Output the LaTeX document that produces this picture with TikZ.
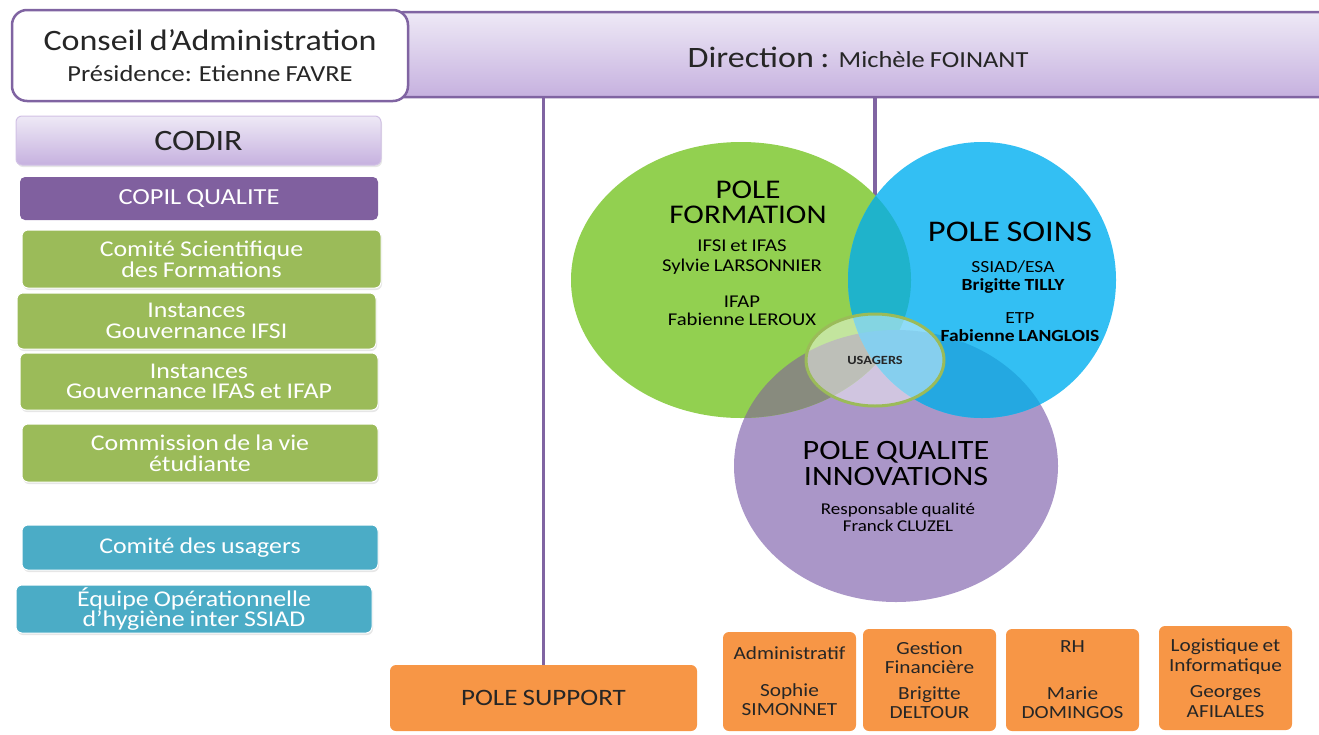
\documentclass[tikz,border=0pt]{standalone}
\usepackage{fontspec}
\setmainfont[FakeStretch=1.15,WordSpace=0.85]{Carlito}
\usetikzlibrary{shapes.geometric,shadows}
\definecolor{purpline}{HTML}{8064A2}
\definecolor{lavtop}{HTML}{EEE9F6}
\definecolor{lavbot}{HTML}{C6B1DF}
\definecolor{copil}{HTML}{80609F}
\definecolor{boxgreen}{HTML}{9BBB59}
\definecolor{boxteal}{HTML}{4BACC6}
\definecolor{boxorange}{HTML}{F79646}
\definecolor{cgreen}{HTML}{92D050}
\definecolor{cblue}{HTML}{33BFF3}
\definecolor{cpurple}{HTML}{AA96C8}
\definecolor{cgp}{HTML}{888B7E}
\definecolor{cgb}{HTML}{1FB3CB}
\definecolor{cbp}{HTML}{24A8E1}
\definecolor{txt}{HTML}{262626}
\newcommand\fs[2]{\fontsize{#1}{#2}\selectfont}
\begin{document}
\begin{tikzpicture}[x=1pt,y=-1pt,
  base/.style={inner sep=0pt, outer sep=0pt, align=center},
  lavbox/.style={base, rounded corners=6pt, top color=lavtop, bottom color=lavbot, text=txt},
  leftbox/.style={base, rounded corners=6pt, text=white, draw=white, line width=1pt,
     drop shadow={opacity=0.2, shadow xshift=1pt, shadow yshift=-2pt}},
  greenbox/.style={leftbox, fill=boxgreen, font=\fs{22.5}{21}},
  tealbox/.style={leftbox, fill=boxteal, font=\fs{22.5}{20}},
  orbox/.style={base, rounded corners=6pt, fill=boxorange, text=txt},
  vline/.style={draw=purpline, line width=3.5pt},
  ctext/.style={base, text=black}
]
\useasboundingbox (0,0) rectangle (1319,734);

% Direction bar (runs off the right edge)
\node[lavbox, draw=purpline, line width=2.5pt, minimum width=950pt, minimum height=85pt]
  (dir) at (873,54.5) {};
\node[base, text=txt] (dirt) at (858,57) {\fs{29.6}{32}Direction : \fs{23}{26}Michèle FOINANT};

% Conseil d'Administration
\node[base, draw=purpline, line width=2.5pt, fill=white, rounded corners=15pt,
  minimum width=396pt, minimum height=91pt, text=txt, font=\fs{29.6}{31}]
  (ca) at (210,55.5) {Conseil d’Administration\\{\fs{23}{31}Présidence: Etienne FAVRE}};

% Left column
\node[lavbox, draw=lavbot!80!white, line width=1pt, minimum width=365pt, minimum height=49pt,
  font=\fs{29.6}{32}, drop shadow={opacity=0.2, shadow xshift=1pt, shadow yshift=-2pt}]
  (codir) at (198.5,140.5) {CODIR};
\node[base, rounded corners=5pt, fill=copil, text=white, minimum width=358pt, minimum height=43pt,
  font=\fs{23}{26}] (copil) at (199,198.5) {COPIL QUALITE};
\node[greenbox, minimum width=359pt, minimum height=58pt] (csf) at (201.5,259) {Comité Scientifique\\des Formations};
\node[greenbox, minimum width=359pt, minimum height=56pt] (ifsi) at (196.5,321) {Instances\\Gouvernance IFSI};
\node[greenbox, minimum width=358pt, minimum height=57pt, font=\fs{22.5}{20}] (ifas) at (199,381.5) {Instances\\Gouvernance IFAS et IFAP};
\node[greenbox, minimum width=356pt, minimum height=58pt] (cve) at (200,453) {Commission de la vie\\étudiante};
\node[tealbox, minimum width=356pt, minimum height=45pt] (cu) at (200,547.5) {Comité des usagers};
\node[tealbox, minimum width=356pt, minimum height=48pt] (eoh) at (194,609) {Équipe Opérationnelle\\d’hygiène inter SSIAD};

% Pole support and sub boxes
\node[orbox, minimum width=307pt, minimum height=66pt, font=\fs{23.5}{26}] (sup) at (543.5,698) {POLE SUPPORT};
\node[orbox, minimum width=133pt, minimum height=99pt, font=\fs{18.5}{19.5}] (adm) at (789.5,681.5)
  {Administratif\\[17pt]Sophie\\SIMONNET};
\node[orbox, minimum width=133pt, minimum height=102pt, font=\fs{18.5}{19}] (gf) at (929.5,680)
  {Gestion\\Financière\\[7pt]Brigitte\\DELTOUR};
\node[orbox, minimum width=133pt, minimum height=102pt, font=\fs{18.5}{19}] (rh) at (1072.5,680)
  {RH\\[28pt]Marie\\DOMINGOS};
\node[orbox, minimum width=133pt, minimum height=104pt, font=\fs{18.5}{20}] (log) at (1225.5,678)
  {Logistique et\\Informatique\\[6pt]Georges\\AFILALES};

% connectors
\coordinate (uc) at (875,360);
\draw[vline] (sup.north) -- (sup.north |- dir.south);
\draw[vline] (uc |- dir.south) -- (uc);

% Venn circles
\fill[cpurple] (896,466) ellipse [x radius=162pt, y radius=136pt];
\fill[cgreen] (741,280) ellipse [x radius=170pt, y radius=138pt];
\begin{scope}
  \clip (896,466) ellipse [x radius=162pt, y radius=136pt];
  \fill[cgp] (741,280) ellipse [x radius=170pt, y radius=138pt];
\end{scope}
\fill[cblue] (982,280) ellipse [x radius=134pt, y radius=138pt];
\begin{scope}
  \clip (741,280) ellipse [x radius=170pt, y radius=138pt];
  \fill[cgb] (982,280) ellipse [x radius=134pt, y radius=138pt];
\end{scope}
\begin{scope}
  \clip (896,466) ellipse [x radius=162pt, y radius=136pt];
  \fill[cbp] (982,280) ellipse [x radius=134pt, y radius=138pt];
\end{scope}
\node[base, ellipse, minimum width=138pt, minimum height=92pt, fill=white, fill opacity=0.45,
  text opacity=1, draw=boxgreen, draw opacity=1, line width=3pt, font=\fs{12.5}{13}\bfseries, text=txt]
  (us) at (uc) {USAGERS};

% Circle texts
\node[ctext, font=\fs{27}{25}] (pft) at (748,202) {POLE\\FORMATION};
\node[ctext, font=\fs{18}{20}] (pfa) at (742,257) {IFSI et IFAS\\Sylvie LARSONNIER};
\node[ctext, font=\fs{18}{18}] (pfb) at (742,311) {IFAP\\Fabienne LEROUX};
\node[ctext, font=\fs{30}{30}] (pst) at (1010,232) {POLE SOINS};
\node[ctext, font=\fs{17}{18}] (psa) at (1013,277) {SSIAD/ESA\\\bfseries Brigitte TILLY};
\node[ctext, font=\fs{17}{18}] (psb) at (1020,327) {ETP\\\bfseries Fabienne LANGLOIS};
\node[ctext, font=\fs{28}{26}] (pqt) at (896,464) {POLE QUALITE\\INNOVATIONS};
\node[ctext, font=\fs{16.5}{17}] (pqa) at (898,517) {Responsable qualité\\Franck CLUZEL};
\end{tikzpicture}
\end{document}
